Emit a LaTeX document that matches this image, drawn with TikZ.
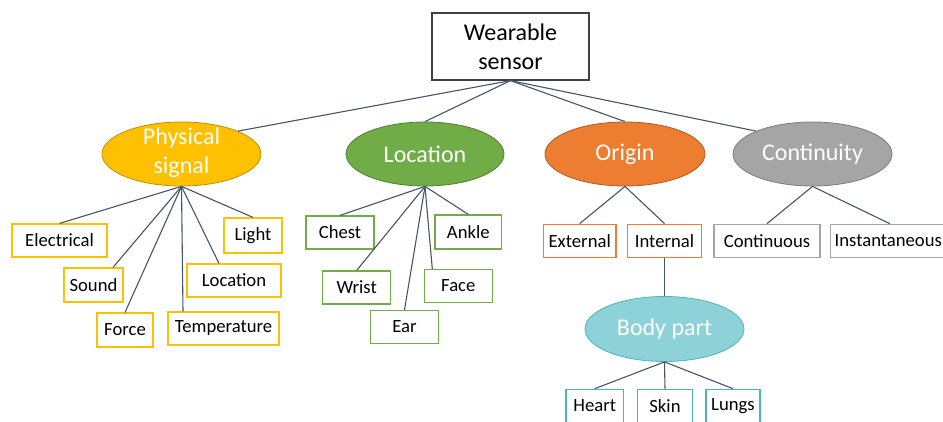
\documentclass[tikz,border=0pt]{standalone}
\usepackage{fontspec}
\setmainfont{Carlito}
\usetikzlibrary{shapes.geometric,calc}
\definecolor{cgold}{HTML}{FFC000}\definecolor{cgoldD}{HTML}{BF9000}
\definecolor{cgreen}{HTML}{70AD47}\definecolor{cgreenD}{HTML}{507E32}
\definecolor{corange}{HTML}{ED7D31}\definecolor{corangeD}{HTML}{AE5A21}
\definecolor{cgray}{HTML}{A5A5A5}\definecolor{cgrayD}{HTML}{7C7C7C}
\definecolor{caqua}{HTML}{8CD2D8}\definecolor{caquaD}{HTML}{4BB4B9}
\definecolor{cline}{HTML}{44546A}
\definecolor{croot}{HTML}{404040}
\tikzset{
  ell/.style={ellipse,draw=#1D,fill=#1,line width=0.8pt,inner sep=0pt,minimum width=159pt,minimum height=64pt},
  elltext/.style={text=white,align=center,inner sep=0pt,font=\fontsize{24}{28.8}\selectfont},
  leaf/.style={rectangle,draw=#1,line width=1.2pt,fill=white,inner sep=0pt,minimum height=33pt,font=\fontsize{18.67}{22.4}\selectfont},
  conn/.style={draw=cline,line width=1.1pt},
}
\begin{document}
\begin{tikzpicture}[x=1pt,y=-1pt]
\useasboundingbox (0,0) rectangle (943,421);
% root
\node[rectangle,draw=croot,line width=1.2pt,minimum width=157pt,minimum height=67pt,inner sep=0pt,align=center,font=\fontsize{24}{28.8}\selectfont] (root) at (510.5,46.5) {Wearable\\sensor};
% ellipses
\node[ell=cgold] (phys) at (181.5,154) {};
\node[elltext] (physT) at ([yshift=1pt]phys.center) {Physical\\signal};
\node[ell=cgreen,minimum width=158pt] (loc) at (425,154) {};
\node[elltext] (locT) at (loc.center) {Location};
\node[ell=corange,minimum width=160pt] (orig) at (625,154) {};
\node[elltext] (origT) at (orig.center) {Origin};
\node[ell=cgray] (cont) at (812.5,154) {};
\node[elltext] (contT) at (cont.center) {Continuity};
\node[ell=caqua,minimum height=65pt] (body) at (664.5,329) {};
\node[elltext] (bodyT) at (body.center) {Body part};
% root connectors
\draw[conn] (root.south) -- (phys.north east);
\draw[conn] (root.south) -- (loc.north);
\draw[conn] (root.south) -- (orig.north);
\draw[conn] (root.south) -- (cont.north west);
% physical children
\node[leaf=cgold,minimum width=95pt] (elec) at (59.5,240.5) {Electrical};
\node[leaf=cgold,minimum width=59pt,minimum height=34pt] (sound) at (93.5,285) {Sound};
\node[leaf=cgold,minimum width=56pt,minimum height=34pt] (force) at (125,330) {Force};
\node[leaf=cgold,minimum width=111pt] (temp) at (223.5,328.5) {Temperature};
\node[leaf=cgold,minimum width=94pt] (ploc) at (234,280.5) {Location};
\node[leaf=cgold,minimum width=58pt,minimum height=35pt] (light) at (253,235.5) {Light};
\draw[conn] (phys.south) -- (elec.north);
\draw[conn] (phys.south) -- ([xshift=19.5pt]sound.north);
\draw[conn] (phys.south) -- (force.north);
\draw[conn] (phys.south) -- ([xshift=-40.5pt]temp.north);
\draw[conn] (phys.south) -- ([xshift=-15pt]ploc.north);
\draw[conn] (phys.south) -- (light.north);
% location children
\node[leaf=cgreen,minimum width=68pt] (chest) at (340,232.5) {Chest};
\node[leaf=cgreen,minimum width=68pt] (wrist) at (356.7,287.5) {Wrist};
\node[leaf=cgreen,minimum width=67.6pt] (ear) at (404.5,327) {Ear};
\node[leaf=cgreen,minimum width=68pt] (face) at (458.3,286) {Face};
\node[leaf=cgreen,minimum width=66.7pt,minimum height=34pt] (ankle) at (468.3,232) {Ankle};
\draw[conn] (loc.south) -- (chest.north);
\draw[conn] (loc.south) -- (wrist.north);
\draw[conn] (loc.south) -- (ear.north);
\draw[conn] (loc.south) -- ([xshift=-26pt]face.north);
\draw[conn] (loc.south) -- (ankle.north);
% origin children
\node[leaf=corange,minimum width=72.7pt] (ext) at (579.7,240.7) {External};
\node[leaf=corange,minimum width=74.4pt] (int) at (664.5,240.7) {Internal};
\draw[conn] (orig.south) -- (ext.north);
\draw[conn] (orig.south) -- (int.north);
\draw[conn] (int.south) -- (body.north);
% continuity children
\node[leaf=cgray,minimum width=106pt] (contn) at (767,240.7) {Continuous};
\node[leaf=cgray,text width=114pt,align=left,inner xsep=4pt] (inst) at (891.7,240.7) {Instantaneous};
\draw[conn] (cont.south) -- (contn.north);
\draw[conn] (cont.south) -- ([xshift=-2pt]inst.north);
% body part children
\node[leaf=caquaD,minimum width=57.3pt] (heart) at (594.7,405.8) {Heart};
\node[leaf=caquaD,minimum width=55.4pt] (skin) at (665,405.8) {Skin};
\node[leaf=caquaD,minimum width=54pt] (lungs) at (733,405.8) {Lungs};
\draw[conn] (body.south) -- (heart.north);
\draw[conn] (body.south) -- (skin.north);
\draw[conn] (body.south) -- (lungs.north);
\end{tikzpicture}
\end{document}
